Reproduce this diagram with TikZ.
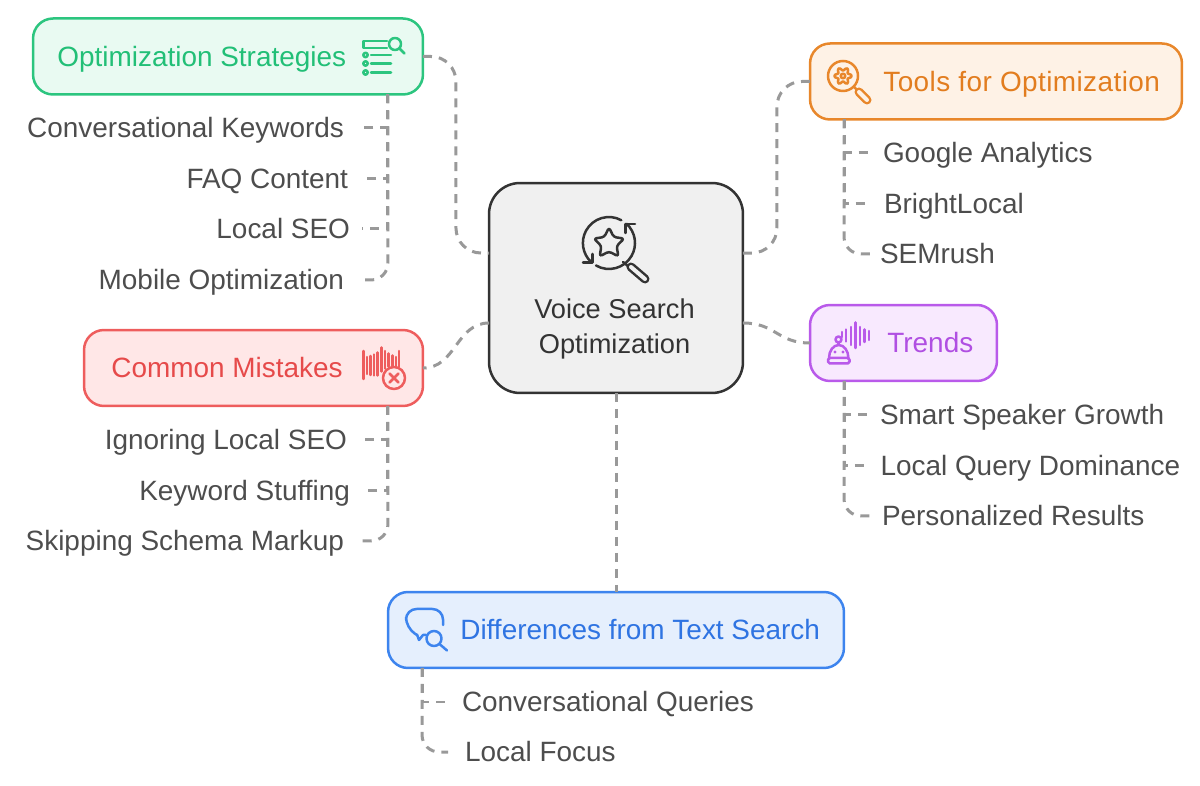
\documentclass[tikz,border=0pt]{standalone}
\usepackage{fontspec}
\setmainfont{Liberation Sans}
\definecolor{optline}{HTML}{2CC57F}
\definecolor{optfill}{HTML}{E9FAF2}
\definecolor{opttext}{HTML}{22BF77}
\definecolor{toolline}{HTML}{E8872B}
\definecolor{toolfill}{HTML}{FEF2E6}
\definecolor{tooltext}{HTML}{E27D1F}
\definecolor{trendline}{HTML}{B95AEA}
\definecolor{trendfill}{HTML}{F8E9FE}
\definecolor{trendtext}{HTML}{B04FE2}
\definecolor{mistakeline}{HTML}{EE5D5D}
\definecolor{mistakefill}{HTML}{FFE7E7}
\definecolor{mistaketext}{HTML}{E64A4A}
\definecolor{diffline}{HTML}{3D84EE}
\definecolor{difffill}{HTML}{E5EFFD}
\definecolor{difftext}{HTML}{2F74E2}
\definecolor{hubfill}{HTML}{F0F0F0}
\definecolor{hubline}{HTML}{333333}
\definecolor{leaftext}{HTML}{4D4D4D}
\definecolor{linkgray}{HTML}{999999}
\tikzset{
  topicbox/.style={draw=#1line, fill=#1fill, line width=0.05cm, rounded corners=0.4cm, minimum height=1.52cm, outer sep=0pt},
  topictitle/.style={text=#1text, anchor=west, font=\fontsize{15.9}{19}\selectfont, inner sep=0pt, text height=0.4cm, text depth=0pt},
  leafleft/.style={text=leaftext, anchor=east, font=\fontsize{15.9}{19}\selectfont, inner ysep=0pt, inner xsep=0.32cm, outer sep=0pt, text height=0.4cm, text depth=0pt},
  leafright/.style={leafleft, anchor=west, inner xsep=0.28cm},
  link/.style={draw=linkgray, line width=0.06cm, dash pattern=on 0.18cm off 0.14cm},
  lastlink/.style={link, rounded corners=0.34cm},
  icon/.style={line width=0.05cm, line cap=round, line join=round},
  grip/.style={icon, double=#1, double distance=0.08cm}
}
\begin{document}
\begin{tikzpicture}[x=0.02cm, y=-0.02cm]
   \useasboundingbox (0,0) rectangle (1200,786);

   % hub
   \node[draw=hubline, fill=hubfill, line width=0.05cm, rounded corners=0.62cm, minimum width=5.08cm, minimum height=4.2cm, outer sep=0pt] (voice) at (616,288) {};
   \node[text=hubline, align=center, font=\fontsize{15.5}{19.4}\selectfont, inner sep=0pt] (voicetext) at (614.5,329) {Voice Search\\Optimization};

   % topics
   \node[topicbox=opt, minimum width=7.8cm] (optstrat) at (228,56.5) {};
   \node[topictitle=opt] (opttitle) at (57,56.5) {Optimization Strategies};
   \node[topicbox=tool, minimum width=7.44cm] (tools) at (996,81.5) {};
   \node[topictitle=tool] (toolstitle) at (883,81.5) {\addfontfeature{LetterSpace=1.5}Tools for Optimization};
   \node[topicbox=trend, minimum width=3.74cm] (trends) at (903.5,343) {};
   \node[topictitle=trend] (trendstitle) at (887,343) {Trends};
   \node[topicbox=mistake, minimum width=6.78cm] (mistakes) at (253.5,368) {};
   \node[topictitle=mistake] (mistakestitle) at (111,368) {Common Mistakes};
   \node[topicbox=diff, minimum width=9.12cm] (diffs) at (616,630) {};
   \node[topictitle=diff] (diffstitle) at (460,629.5) {Differences from Text Search};

   % leaves
   \node[leafleft, inner xsep=0.36cm] (keywords) at (362,128) {Conversational Keywords};
   \node[leafleft, inner xsep=0.28cm] (faq) at (362,178.5) {FAQ Content};
   \node[leafleft, inner xsep=0.24cm] (localseo) at (362,229) {Local SEO};
   \node[leafleft, inner xsep=0.36cm] (mobile) at (362,280) {Mobile Optimization};
   \node[leafleft, inner xsep=0.3cm] (ignoring) at (362,440) {Ignoring Local SEO};
   \node[leafleft, inner xsep=0.24cm] (stuffing) at (362,491) {Keyword Stuffing};
   \node[leafleft, inner xsep=0.36cm] (schema) at (362,541) {Skipping Schema Markup};
   \node[leafright, inner xsep=0.26cm] (analytics) at (870,153) {Google Analytics};
   \node[leafright] (brightlocal) at (870,204) {BrightLocal};
   \node[leafright, inner xsep=0.2cm] (semrush) at (870,254) {SEMrush};
   \node[leafright, inner xsep=0.2cm] (speaker) at (870,415) {Smart Speaker Growth};
   \node[leafright, inner xsep=0.21cm] (dominance) at (870,466) {Local Query Dominance};
   \node[leafright, inner xsep=0.24cm] (personal) at (870,516) {Personalized Results};
   \node[leafright] (queries) at (448,702) {Conversational Queries};
   \node[leafright, inner xsep=0.34cm] (focus) at (448,752) {Local Focus};

   % hub links
   \draw[link, rounded corners=0.5cm] (optstrat.east) -- ++(33,0) |- ([yshift=0.7cm]voice.west);
   \draw[link, rounded corners=0.5cm] ([yshift=0.7cm]voice.east) -- ++(34,0) |- (tools.west);
   \draw[link] ([yshift=-0.7cm]voice.east) .. controls +(33,0) and +(-33,0) .. (trends.west);
   \draw[link] ([yshift=-0.7cm]voice.west) .. controls +(-33,0) and +(33,0) .. (mistakes.east);
   \draw[link] (voice.south) -- (diffs.north);

   % leaf links
   \draw[link] ([xshift=-0.7cm]optstrat.south east) |- (keywords.east);
   \draw[link] ([xshift=-0.7cm]optstrat.south east) |- (faq.east);
   \draw[link] ([xshift=-0.7cm]optstrat.south east) |- (localseo.east);
   \draw[lastlink] ([xshift=-0.7cm]optstrat.south east) |- (mobile.east);
   \draw[link] ([xshift=-0.7cm]mistakes.south east) |- (ignoring.east);
   \draw[link] ([xshift=-0.7cm]mistakes.south east) |- (stuffing.east);
   \draw[lastlink] ([xshift=-0.7cm]mistakes.south east) |- (schema.east);
   \draw[link] ([xshift=0.68cm]tools.south west) |- (analytics.west);
   \draw[link] ([xshift=0.68cm]tools.south west) |- (brightlocal.west);
   \draw[lastlink] ([xshift=0.68cm]tools.south west) |- (semrush.west);
   \draw[link] ([xshift=0.68cm]trends.south west) |- (speaker.west);
   \draw[link] ([xshift=0.68cm]trends.south west) |- (dominance.west);
   \draw[lastlink] ([xshift=0.68cm]trends.south west) |- (personal.west);
   \draw[link] ([xshift=0.68cm]diffs.south west) |- (queries.west);
   \draw[lastlink] ([xshift=0.68cm]diffs.south west) |- (focus.west);

   % hub icon
   \draw[icon, draw=hubline] (621.3,220.2) arc[start angle=-61.5, end angle=-227, radius=26];
   \draw[icon, draw=hubline] (596,265.5) arc[start angle=120, end angle=-48, radius=26];
   \draw[icon, draw=hubline] (635,224) -- (625.7,224) -- (625.7,233);
   \draw[icon, draw=hubline] (583,262.7) -- (592.7,262.7) -- (592.7,254);
   \draw[icon, draw=hubline, rounded corners=1.5pt] (609,227.5) -- (613.7,237) -- (624.2,238.6) -- (616.6,246) -- (618.4,256.4) -- (609,251.5) -- (599.6,256.4) -- (601.4,246) -- (593.8,238.6) -- (604.3,237) -- cycle;
   \draw[icon, draw=hubline] (623,262) -- (629,267);
   \draw[grip=hubfill, draw=hubline] (631,267) -- (645,279);

   % strategies icon
   \draw[icon, draw=optline] (387,41) -- (363.5,41) -- (363.5,48) -- (387,48);
   \draw[icon, draw=optline] (395,44) circle[radius=6];
   \draw[icon, draw=optline] (399.5,48.5) -- (404.5,53.5);
   \draw[icon, draw=optline] (365.5,55) circle[radius=2.2];
   \draw[icon, draw=optline] (365.5,63.5) circle[radius=2.2];
   \draw[icon, draw=optline] (365.5,72.5) circle[radius=2.2];
   \draw[icon, draw=optline] (371,55) -- (391,55);
   \draw[icon, draw=optline] (371,63.5) -- (391,63.5);
   \draw[icon, draw=optline] (371,72.5) -- (391,72.5);

   % tools icon
   \draw[icon, draw=toolline] (843,76) circle[radius=15];
   \draw[icon, draw=toolline] plot[smooth cycle, domain=0:350, samples=36] ({843+(7+1.7*cos(6*\x))*cos(\x)},{76+(7+1.7*cos(6*\x))*sin(\x)});
   \draw[icon, draw=toolline] (843,76) circle[radius=2.3];
   \draw[icon, draw=toolline] (854,87) -- (858,91);
   \draw[grip=toolfill, draw=toolline] (859,92) -- (867,100);

   % trends icon
   \draw[icon, draw=trendline] (838.5,339.5) circle[radius=3];
   \draw[icon, draw=trendline] (838.5,342.5) -- (838.5,345);
   \draw[icon, draw=trendline] (829,358) arc[start angle=180, end angle=360, x radius=9.7, y radius=13];
   \draw[icon, draw=trendline, rounded corners=1pt] (828,358) rectangle (849.5,363.5);
   \fill[trendline] (835,352) circle[radius=1.6];
   \fill[trendline] (843,352) circle[radius=1.6];
   \draw[icon, draw=trendline] (842,332) -- (842,337);
   \draw[icon, draw=trendline] (846,329.5) -- (846,341.5);
   \draw[icon, draw=trendline] (851,327) -- (851,345);
   \draw[icon, draw=trendline] (855.5,322.5) -- (855.5,348);
   \draw[icon, draw=trendline] (860,327) -- (860,345);
   \draw[icon, draw=trendline] (864.5,329.5) -- (864.5,342);
   \draw[icon, draw=trendline] (869,331) -- (869,340);

   % mistakes icon
   \draw[icon, draw=mistakeline] (363.5,351) -- (363.5,379);
   \draw[icon, draw=mistakeline] (367,357) -- (367,374);
   \draw[icon, draw=mistakeline] (370.5,356) -- (370.5,375);
   \draw[icon, draw=mistakeline] (374,354.5) -- (374,375.5);
   \draw[icon, draw=mistakeline] (377.5,352.5) -- (377.5,375.5);
   \draw[icon, draw=mistakeline] (381.5,347.5) -- (381.5,371.5);
   \draw[icon, draw=mistakeline] (385,351) -- (385,368.5);
   \draw[icon, draw=mistakeline] (388.5,353.5) -- (388.5,366.5);
   \draw[icon, draw=mistakeline] (392.5,355.5) -- (392.5,366.5);
   \draw[icon, draw=mistakeline] (396,357) -- (396,366.5);
   \draw[icon, draw=mistakeline] (399,351) -- (399,366.5);
   \draw[icon, draw=mistakeline, fill=mistakefill] (394,378) circle[radius=11];
   \draw[icon, draw=mistakeline] (389.5,373.5) -- (398.5,382.5);
   \draw[icon, draw=mistakeline] (398.5,373.5) -- (389.5,382.5);

   % differences icon
   \draw[icon, draw=diffline, rounded corners=6pt] (443,625) -- (443,609) -- (406,609) -- (406,628) -- (417,635);
   \draw[icon, draw=diffline] (417,634.5) -- (419,640) -- (423,635) -- (426,635);
   \draw[icon, draw=diffline] (434,638.5) circle[radius=7.5];
   \draw[icon, draw=diffline] (439.5,644) -- (447,650.5);
\end{tikzpicture}
\end{document}
